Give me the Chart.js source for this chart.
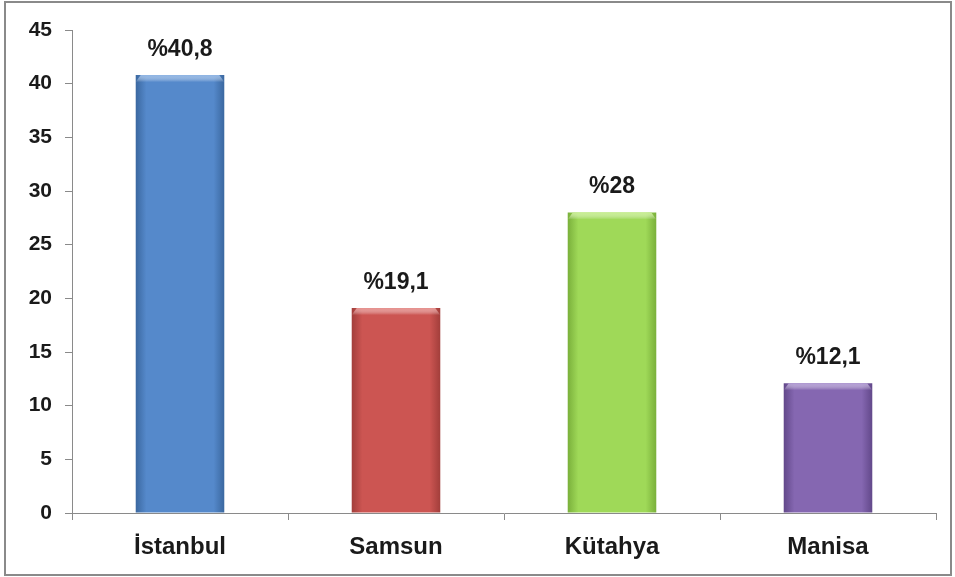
<!DOCTYPE html>
<html>
<head>
<meta charset="utf-8">
<script src="https://cdn.jsdelivr.net/npm/chart.js@4/dist/chart.umd.min.js"></script>
<style>
  html, body { margin: 0; padding: 0; background: #fff; }
  #frame {
    position: absolute; left: 4px; top: 1px; width: 944px; height: 571px;
    border: 2px solid #8a8a8a;
  }
  #wrap { position: absolute; left: 0; top: 0; width: 955px; height: 577px; }
</style>
</head>
<body>
<div id="frame"></div>
<div id="wrap"><canvas id="chart"></canvas></div>
<script>
// Data
const cities = ['İstanbul', 'Samsun', 'Kütahya', 'Manisa'];
const shares = [40.8, 19.1, 28, 12.1];
const yTicks = [0, 5, 10, 15, 20, 25, 30, 35, 40, 45];

// bar colours: [edge, centre, top highlight]
const barColors = [
  ['#3b68a0', '#5589cb', '#8db3e3'],
  ['#a23e3b', '#cc5552', '#e68f8c'],
  ['#7ab03b', '#9fd958', '#c6ee8d'],
  ['#62488a', '#8567b1', '#b09ad3']
];

const FONT = '"Liberation Sans", Arial, sans-serif';
const AXIS_COLOR = '#8a8a8a';

// Gradient fill + bevel on top of each bar
const barStyle = {
  id: 'barStyle',
  beforeDatasetDraw(chart, args) {
    const c = chart.ctx;
    args.meta.data.forEach((bar, i) => {
      const half = bar.width / 2;
      const g = c.createLinearGradient(bar.x - half, 0, bar.x + half, 0);
      const col = barColors[i];
      g.addColorStop(0, col[0]);
      g.addColorStop(0.12, col[1]);
      g.addColorStop(0.5, col[1]);
      g.addColorStop(0.88, col[1]);
      g.addColorStop(1, col[0]);
      bar.options.backgroundColor = g;
    });
  },
  afterDatasetDraw(chart, args) {
    const c = chart.ctx;
    c.save();
    args.meta.data.forEach((bar, i) => {
      const half = bar.width / 2;
      const g = c.createLinearGradient(0, bar.y, 0, bar.y + 7);
      g.addColorStop(0, barColors[i][2]);
      g.addColorStop(1, 'rgba(255,255,255,0)');
      c.fillStyle = g;
      c.beginPath();
      c.moveTo(bar.x - half, bar.y + 7);
      c.lineTo(bar.x - half + 5, bar.y);
      c.lineTo(bar.x + half - 5, bar.y);
      c.lineTo(bar.x + half, bar.y + 7);
      c.closePath();
      c.fill();
    });
    c.restore();
  }
};

// Value labels above bars, "%40,8" style
const valueLabels = {
  id: 'valueLabels',
  afterDatasetsDraw(chart) {
    const c = chart.ctx;
    const meta = chart.getDatasetMeta(0);
    c.save();
    c.font = 'bold 23px ' + FONT;
    c.fillStyle = '#1a1a1a';
    c.textAlign = 'center';
    c.textBaseline = 'alphabetic';
    meta.data.forEach((bar, i) => {
      const txt = '%' + String(shares[i]).replace('.', ',');
      c.fillText(txt, bar.x, bar.y - 19);
    });
    c.restore();
  }
};

const ctx = document.getElementById('chart').getContext('2d');
new Chart(ctx, {
  type: 'bar',
  data: {
    labels: cities,
    datasets: [{
      data: shares,
      backgroundColor: barColors.map(c => c[1]),
      borderWidth: 0,
      categoryPercentage: 1,
      barPercentage: 0.41
    }]
  },
  options: {
    responsive: true,
    maintainAspectRatio: false,
    animation: false,
    layout: { padding: { top: 30, right: 19, left: 0, bottom: 0 } },
    plugins: {
      legend: { display: false },
      tooltip: { enabled: false }
    },
    scales: {
      x: {
        grid: {
          display: true,
          drawOnChartArea: false,
          offset: true,
          tickLength: 7,
          color: AXIS_COLOR
        },
        border: { color: AXIS_COLOR, width: 1 },
        ticks: {
          color: '#1a1a1a',
          font: { family: FONT, size: 24, weight: 'bold' },
          padding: 13,
          maxRotation: 0
        },
        afterFit(scale) { scale.height = 64; }
      },
      y: {
        min: 0,
        max: 45,
        afterBuildTicks(scale) {
          scale.ticks = yTicks.map(v => ({ value: v }));
        },
        grid: {
          display: true,
          drawOnChartArea: false,
          tickLength: 7,
          color: AXIS_COLOR
        },
        border: { color: AXIS_COLOR, width: 1 },
        ticks: {
          color: '#1a1a1a',
          font: { family: FONT, size: 21, weight: 'bold' },
          padding: 13
        },
        afterFit(scale) { scale.width = 72; }
      }
    }
  },
  plugins: [barStyle, valueLabels]
});
</script>
</body>
</html>
